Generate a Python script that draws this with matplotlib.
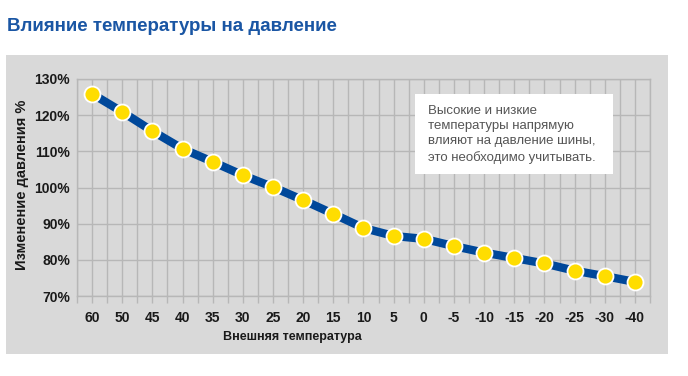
import matplotlib.pyplot as plt
from matplotlib.patches import Rectangle

plt.rcParams['font.family'] = ['Liberation Sans', 'DejaVu Sans']

# данные графика
temps = ["60", "50", "45", "40", "35", "30", "25", "20", "15", "10",
         "5", "0", "-5", "-10", "-15", "-20", "-25", "-30", "-40"]
pressure = [125.9, 120.9, 115.6, 110.7, 107.1, 103.4, 100.1, 96.5, 92.7, 88.8,
            86.6, 85.8, 83.8, 82.0, 80.5, 79.0, 77.0, 75.5, 73.9]
y_ticks = [70, 80, 90, 100, 110, 120, 130]
note = ("Высокие и низкие\nтемпературы напрямую\n"
        "влияют на давление шины,\nэто необходимо учитывать.")

W, H = 688, 376
fig = plt.figure(figsize=(W / 100, H / 100), dpi=100)
fig.patch.set_facecolor('white')

# серая подложка
fig.patches.append(Rectangle((6 / W, 1 - 354 / H), 662 / W, 299 / H,
                             transform=fig.transFigure, facecolor='#d9d9d9',
                             edgecolor='none', zorder=-1))

ax = fig.add_axes([77 / W, 1 - 296 / H, 573 / W, 217 / H])
ax.set_zorder(1)
ax.set_facecolor('#d9d9d9')
grid_c = '#b7b7b7'

x = list(range(len(temps)))
ax.plot(x, pressure, color='#00489a', lw=6, solid_capstyle='butt', zorder=3)
ax.plot(x, pressure, ls='none', marker='o', ms=11.5, mfc='#ffdd00',
        mec='white', mew=1.3, zorder=4)

ax.set_xlim(-0.5, len(temps) - 0.5)
ax.set_ylim(70, 130)
ax.set_xticks(x)
ax.set_xticks([i - 0.5 for i in range(len(temps) + 1)], minor=True)
ax.set_xticklabels(temps, fontsize=10, fontweight='bold', color='#1a1a1a')
ax.set_yticks(y_ticks)
ax.set_yticklabels([f"{v}%" for v in y_ticks], fontsize=10,
                   fontweight='bold', color='#1a1a1a')

ax.grid(True, which='both', axis='x', color=grid_c, lw=1)
ax.grid(True, which='major', axis='y', color=grid_c, lw=1)
ax.set_axisbelow(True)
ax.tick_params(axis='x', which='both', length=5, color=grid_c, width=1, pad=6)
ax.tick_params(axis='y', length=0, pad=5)
for s in ax.spines.values():
    s.set_color(grid_c)
    s.set_linewidth(1)

# подписи
fig.text(7 / W, 1 - 31 / H, "Влияние температуры на давление", fontsize=13.5,
         fontweight='bold', color='#1a56a4', va='baseline', ha='left')
fig.text(292 / W, 1 - 337 / H, "Внешняя температура", fontsize=9,
         fontweight='bold', color='#1a1a1a', ha='center', va='center')
fig.text(22 / W, 1 - 185 / H, "Изменение давления %", fontsize=10.5,
         fontweight='bold', color='#1a1a1a', rotation=90,
         ha='center', va='center')

# пояснение
fig.patches.append(Rectangle((415 / W, 1 - 174 / H), 198 / W, 80 / H,
                             transform=fig.transFigure, facecolor='white',
                             edgecolor='none', zorder=5))
fig.text(428 / W, 1 - 105 / H, note, fontsize=9.5, color='#555555',
         ha='left', va='top', linespacing=1.36, zorder=6)

fig.savefig('out.png', dpi=100)
